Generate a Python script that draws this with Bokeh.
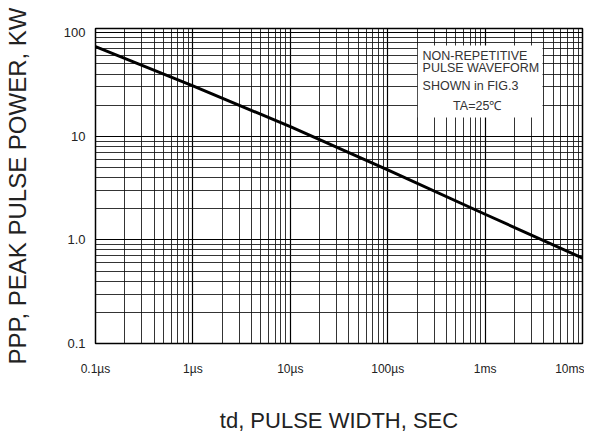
from bokeh.plotting import figure
from bokeh.models import FixedTicker, CustomJSTickFormatter, BoxAnnotation, Label, Range1d
from bokeh.embed import file_html
from bokeh.resources import INLINE

# ---- data ----
pulse_width_s = [1e-7, 1e-6, 1e-5, 1e-4, 1e-3, 1e-2]
peak_power_kw = [73.6, 30.7, 12.4, 4.75, 1.77, 0.668]

# x tick labels; the last one sits right-aligned against the frame edge in the
# reference, so its label anchor is placed just inside the 10 ms edge
x_tick_values = [1e-7, 1e-6, 1e-5, 1e-4, 1e-3, 10 ** -2.115]
x_tick_labels = ["0.1µs", "1µs", "10µs", "100µs", "1ms", "10ms"]
y_tick_values = [0.1, 1, 10, 100]
y_tick_labels = ["0.1", "1.0", "10", "100"]
note_lines = ["NON-REPETITIVE", "PULSE WAVEFORM", "SHOWN in FIG.3", "TA=25℃"]

FONT = "Liberation Sans"
TXT = "#222222"

p = figure(width=584, height=437, x_axis_type="log", y_axis_type="log",
           x_range=Range1d(1e-7, 1e-2), y_range=Range1d(0.1, 110),
           output_backend="svg", toolbar_location=None,
           min_border_left=94, min_border_right=2, min_border_top=28,
           min_border_bottom=94)
p.background_fill_color = "white"
p.border_fill_color = "white"
p.outline_line_color = "black"
p.outline_line_width = 1.5

# grid: decades plus 2..9 within each decade
x_dec = [1e-7, 1e-6, 1e-5, 1e-4, 1e-3, 1e-2]
y_dec = [0.1, 1, 10, 100]
x_minor = [k * d for d in x_dec[:-1] for k in range(2, 10)]
y_minor = [k * d for d in y_dec for k in range(2, 10)]
p.xgrid.ticker = FixedTicker(ticks=x_dec, minor_ticks=x_minor)
p.ygrid.ticker = FixedTicker(ticks=y_dec, minor_ticks=y_minor)
for g in (p.xgrid, p.ygrid):
    g.grid_line_color = "black"
    g.grid_line_alpha = 1.0
    g.grid_line_width = 1.2
    g.minor_grid_line_color = "#111111"
    g.minor_grid_line_alpha = 0.85
    g.minor_grid_line_width = 1

# axes
p.xaxis.ticker = FixedTicker(ticks=x_tick_values)
p.xaxis.formatter = CustomJSTickFormatter(args=dict(labels=x_tick_labels),
                                          code="return labels[index];")
p.yaxis.ticker = FixedTicker(ticks=y_tick_values)
p.yaxis.formatter = CustomJSTickFormatter(args=dict(labels=y_tick_labels),
                                          code="return labels[index];")
for ax in (p.xaxis, p.yaxis):
    ax.axis_line_color = None
    ax.major_tick_line_color = None
    ax.minor_tick_line_color = None
    ax.major_label_text_font = FONT
    ax.major_label_text_color = TXT
    ax.axis_label_text_font = FONT
    ax.axis_label_text_color = TXT
    ax.axis_label_text_font_style = "normal"

p.xaxis.major_label_text_font_size = "12px"
p.xaxis.major_label_standoff = 12
p.xaxis.axis_label = "td, PULSE WIDTH, SEC"
p.xaxis.axis_label_text_font_size = "22px"
p.xaxis.axis_label_standoff = 29

p.yaxis.major_label_text_font_size = "13px"
p.yaxis.major_label_standoff = 4
p.yaxis.axis_label = "PPP, PEAK PULSE POWER, KW"
p.yaxis.axis_label_text_font_size = "24px"
p.yaxis.axis_label_standoff = 30

# curve
p.line(pulse_width_s, peak_power_kw, line_width=3, line_color="black")

# note box
p.add_layout(BoxAnnotation(left=2.04e-4, right=3.89e-3, top=75.2, bottom=15.2,
                           fill_color="white", fill_alpha=1.0, line_color=None))
note_x = [2.28e-4, 2.28e-4, 2.28e-4, 8.3e-4]
note_y = [60.3, 45.8, 30.5, 19.8]
note_align = ["left", "left", "left", "center"]
for t, xx, yy, al in zip(note_lines, note_x, note_y, note_align):
    p.add_layout(Label(x=xx, y=yy, text=t, text_align=al, text_baseline="middle",
                       text_font=FONT, text_font_size="12.5px", text_color="#333333"))

open("out.html", "w").write(file_html(p, INLINE))
